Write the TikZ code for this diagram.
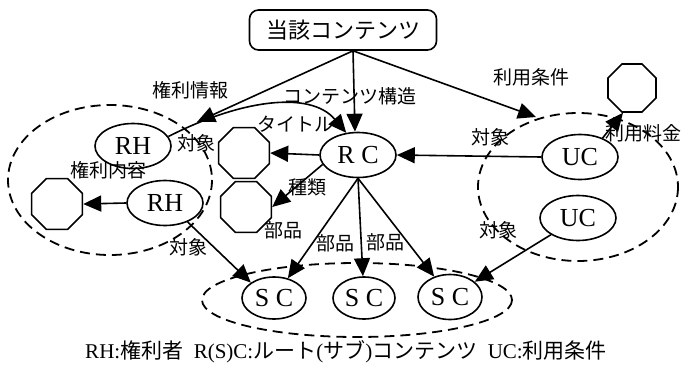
\documentclass[tikz,border=0pt]{standalone}
\usepackage{fontspec}
\setmainfont{Liberation Serif}
\newfontfamily\jp{Noto Sans CJK JP}
\usetikzlibrary{arrows.meta,shapes.geometric,calc}
\begin{document}
\begin{tikzpicture}[x=1pt,y=-1pt,
  ell/.style={draw,ellipse,line width=1.6pt,minimum width=76pt,minimum height=45pt,inner sep=0pt,font=\fontsize{26}{26}\selectfont},
  oct/.style={draw,regular polygon,regular polygon sides=8,minimum size=55pt,inner sep=0pt,line width=1.6pt},
  grp/.style={line width=1.8pt,dash pattern=on 10pt off 6pt},
  arr/.style={line width=1.6pt,-{Triangle[length=18pt,width=16pt]}},
  lbl/.style={font=\jp\fontsize{19}{19}\selectfont,inner sep=0pt},
]
\useasboundingbox (0,0) rectangle (683,370);

% groups
\draw[grp] (110,180) ellipse [x radius=102, y radius=75];
\draw[grp] (578,187) ellipse [x radius=100, y radius=74];
\draw[grp] (357,300) ellipse [x radius=155, y radius=37];

% nodes
\node[draw,rounded corners=9pt,line width=1.6pt,minimum width=187pt,minimum height=40pt,inner sep=0pt,font=\jp\fontsize{22}{22}\selectfont] (top) at (343,30) {当該コンテンツ};
\node[ell] (RC) at (358,155) {R C};
\node[ell] (RH1) at (133,146) {RH};
\node[ell] (RH2) at (165,203) {RH};
\node[ell] (UC1) at (580,157) {UC};
\node[ell] (UC2) at (578,218) {UC};
\node[ell,minimum width=64pt,minimum height=42pt] (SC1) at (274,298) {S C};
\node[ell,minimum width=62pt,minimum height=42pt] (SC2) at (364,298) {S C};
\node[ell,minimum width=64pt,minimum height=45pt] (SC3) at (450,297) {S C};
\node[oct] (octL) at (57,204) {};
\node[oct] (octM1) at (244,153) {};
\node[oct] (octM2) at (246,207) {};
\node[oct,minimum size=52pt] (octR) at (632,88) {};

\coordinate (ts) at ($(top.south)+(10,0)$);
\coordinate (rhg) at (197,122);
\coordinate (ucg) at (536,117);

% arrows
\draw[arr] (ts) -- ($(RC.north)+(-3,0)$);
\draw[arr] (ts) -- (rhg);
\draw[arr] (ts) -- (ucg);
\draw[arr] (RH1.15) .. controls (240,100) and (310,90) .. (RC.118);
\draw[arr] (RC.west) -- (octM1.east);
\draw[arr] (RC.195) -- (octM2.east);
\draw[arr] (RC.south) -- (SC1);
\draw[arr] (RC.south) -- (SC2);
\draw[arr] (RC.south) -- (SC3);
\draw[arr] (RH2.west) -- (octL.east);
\draw[arr] (RH2.-40) -- (SC1.north west);
\draw[arr] (UC1.west) -- (RC.east);
\draw[arr] (UC1.40) -- (octR.250);
\draw[arr] (UC2) -- (SC3);

% labels
\node[lbl] (l1) at (350,96) {コンテンツ構造};
\node[lbl] (l2) at (190,90) {権利情報};
\node[lbl] (l3) at (531,77) {利用条件};
\node[lbl] (l4) at (196,143) {対象};
\node[lbl] (l5) at (295,124) {タイトル};
\node[lbl] (l6) at (307,187) {種類};
\node[lbl] (l7) at (283,230) {部品};
\node[lbl] (l8) at (335,243) {部品};
\node[lbl] (l9) at (385,242) {部品};
\node[lbl] (l10) at (108,170) {権利内容};
\node[lbl] (l11) at (188,247) {対象};
\node[lbl] (l12) at (490,137) {対象};
\node[lbl] (l13) at (643,133) {利用料金};
\node[lbl] (l14) at (498,230) {対象};

\node[font=\fontsize{21}{21}\selectfont,inner sep=0pt] (cap) at (346,352) {RH:{\jp 権利者}\ \ R(S)C:{\jp ルート}({\jp サブ}){\jp コンテンツ}\ \ UC:{\jp 利用条件}};
\end{tikzpicture}
\end{document}
